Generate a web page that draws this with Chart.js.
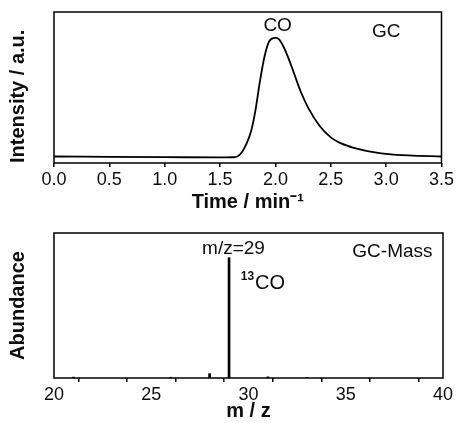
<!DOCTYPE html>
<html>
<head>
<meta charset="utf-8">
<script src="https://cdn.jsdelivr.net/npm/chart.js@4.4.1/dist/chart.umd.min.js"></script>
<style>
  body { margin: 0; background: #fff; }
  #wrap { position: relative; width: 456px; height: 423px; }
  canvas { position: absolute; left: 0; }
  #gcChart { top: 0; }
  #msChart { top: 215px; }
</style>
</head>
<body>
<div id="wrap">
  <canvas id="gcChart" width="456" height="215"></canvas>
  <canvas id="msChart" width="456" height="208"></canvas>
</div>
<script>
/* --------------- GC trace (time in min, intensity a.u.) --------------- */
const gcTime = [0, 0.5, 1.0, 1.5, 1.62, 1.66, 1.70, 1.74, 1.78, 1.82, 1.86, 1.90, 1.94, 1.98, 2.00,
  2.03, 2.07, 2.12, 2.17, 2.23, 2.30, 2.40, 2.50, 2.60, 2.70, 2.80, 2.90, 3.00, 3.20, 3.50];
const gcIntensity = [4.3, 4.1, 3.9, 3.7, 3.8, 4.5, 7.5, 13, 21, 35, 54, 70, 80, 82.7, 82.8,
  82, 77.5, 69, 59, 47, 36, 24.5, 17, 12.8, 10.2, 8.4, 7.1, 6.1, 5.0, 4.3];
const gcTicks = [0, 0.5, 1.0, 1.5, 2.0, 2.5, 3.0, 3.5];

/* --------------- Mass spectrum (m/z, abundance) --------------- */
const msMz = [21, 26, 28, 29, 31, 33];
const msAbundance = [0.6, 0.5, 3.0, 83, 0.8, 0.5];

const FONT = "'Liberation Sans', Arial, sans-serif";
const INK = "#0d0d0d";

/* --------------- Frame around the plot area --------------- */
const boxPlugin = {
  id: "box",
  afterDatasetsDraw(chart) {
    const { ctx, chartArea: a } = chart;
    ctx.save();
    ctx.strokeStyle = "#000";
    ctx.lineWidth = 1.5;
    ctx.strokeRect(a.left, a.top, a.right - a.left, a.bottom - a.top);
    ctx.restore();
  },
};

/* --------------- Text labels inside the plots --------------- */
const notesPlugin = {
  id: "notes",
  afterDraw(chart, args, opts) {
    const { ctx, scales } = chart;
    ctx.save();
    ctx.fillStyle = INK;
    ctx.textBaseline = "middle";
    for (const n of opts.items) {
      const x = scales.x.getPixelForValue(n.x);
      const y = scales.y.getPixelForValue(n.y);
      if (n.sup) {
        // superscript mass number, then the formula
        ctx.textAlign = "left";
        ctx.font = `bold 12px ${FONT}`;
        ctx.fillText(n.sup, x, y - 6);
        const w = ctx.measureText(n.sup).width;
        ctx.font = `20px ${FONT}`;
        ctx.fillText(n.text, x + w + 1, y);
      } else {
        ctx.textAlign = "center";
        ctx.font = `19px ${FONT}`;
        ctx.fillText(n.text, x, y);
      }
    }
    ctx.restore();
  },
};

const axisFont = { family: FONT, size: 18 };
const titleFont = { family: FONT, size: 20, weight: "bold" };

const baseX = (min, max, step, fmt, height) => ({
  type: "linear",
  min: min,
  max: max,
  border: { display: false },
  grid: { drawOnChartArea: false, drawTicks: true, tickLength: 4, color: "#000", lineWidth: 1.5 },
  ticks: {
    stepSize: step,
    autoSkip: false,
    maxRotation: 0,
    color: INK,
    font: axisFont,
    padding: 2,
    callback: fmt,
  },
  afterFit: (s) => { s.height = height; },
});

let gcChart = new Chart(document.getElementById("gcChart"), {
  type: "line",
  plugins: [boxPlugin, notesPlugin],
  data: {
    datasets: [{
      data: gcTime.map((t, i) => ({ x: t, y: gcIntensity[i] })),
      borderColor: "#000",
      borderWidth: 1.8,
      pointRadius: 0,
      cubicInterpolationMode: "monotone",
      fill: false,
    }],
  },
  options: {
    responsive: false,
    animation: false,
    devicePixelRatio: 1,
    layout: { padding: { left: 0, right: 13, top: 12, bottom: 0 } },
    plugins: {
      legend: { display: false },
      tooltip: { enabled: false },
      notes: { items: [
        { x: 2.02, y: 91, text: "CO" },
        { x: 3.0, y: 87, text: "GC" },
      ] },
    },
    scales: {
      x: {
        ...baseX(0, 3.5, 0.5, (v) => gcTicks.includes(v) ? v.toFixed(1) : "", 52),
        title: { display: true, text: "Time / min\u207B\u00B9", color: INK, font: titleFont, padding: { top: 0, bottom: 1 } },
      },
      y: {
        min: 0,
        max: 100,
        border: { display: false },
        grid: { display: false },
        ticks: { display: false },
        title: { display: true, text: "Intensity / a.u.", align: "start", color: INK, font: titleFont, padding: { top: 6, bottom: 0 } },
        afterFit: (s) => { s.width = 54; },
      },
    },
  },
});

let msChart = new Chart(document.getElementById("msChart"), {
  type: "bar",
  plugins: [boxPlugin, notesPlugin],
  data: {
    datasets: [{
      data: msMz.map((m, i) => ({ x: m, y: msAbundance[i] })),
      backgroundColor: "#000",
      borderWidth: 0,
      barThickness: 2,
    }],
  },
  options: {
    responsive: false,
    animation: false,
    devicePixelRatio: 1,
    layout: { padding: { left: 0, right: 13, top: 18, bottom: 0 } },
    plugins: {
      legend: { display: false },
      tooltip: { enabled: false },
      notes: { items: [
        { x: 29.23, y: 89, text: "m/z=29" },
        { x: 37.4, y: 87, text: "GC-Mass" },
        { x: 29.6, y: 65.5, text: "CO", sup: "13" },
      ] },
    },
    scales: {
      x: {
        ...baseX(20, 40, 2.5, (v) => v % 5 === 0 ? String(v) : "", 45),
        offset: false,
        title: { display: true, text: "m / z", color: INK, font: titleFont, padding: { top: 0, bottom: 0 } },
      },
      y: {
        min: 0,
        max: 100,
        border: { display: false },
        grid: { display: false },
        ticks: { display: false },
        title: { display: true, text: "Abundance", color: INK, font: titleFont, padding: { top: 6, bottom: 0 } },
        afterFit: (s) => { s.width = 54; },
      },
    },
  },
});
</script>
</body>
</html>
